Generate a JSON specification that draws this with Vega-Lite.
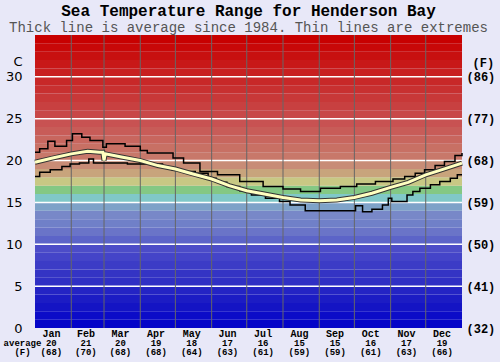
{
  "$schema": "https://vega.github.io/schema/vega-lite/v6.json",
  "width": 427,
  "height": 293,
  "autosize": {"type": "none"},
  "padding": {"left": 35, "top": 35, "right": 38, "bottom": 34},
  "background": "#e8e8f8",
  "config": {"view": {"stroke": null}},
  "title": {
    "text": "Sea Temperature Range for Henderson Bay",
    "subtitle": "Thick line is average since 1984. Thin lines are extremes",
    "anchor": "middle",
    "font": "Liberation Mono",
    "fontSize": 16,
    "fontWeight": "bold",
    "color": "#000000",
    "subtitleFont": "Liberation Mono",
    "subtitleFontSize": 14,
    "subtitleColor": "#555555",
    "subtitlePadding": 2,
    "offset": 0
  },
  "datasets": {
    "bands": [
      {"lo": 0, "hi": 1}, {"lo": 1, "hi": 2}, {"lo": 2, "hi": 3}, {"lo": 3, "hi": 4}, {"lo": 4, "hi": 5},
      {"lo": 5, "hi": 6}, {"lo": 6, "hi": 7}, {"lo": 7, "hi": 8}, {"lo": 8, "hi": 9}, {"lo": 9, "hi": 10},
      {"lo": 10, "hi": 11}, {"lo": 11, "hi": 12}, {"lo": 12, "hi": 13}, {"lo": 13, "hi": 14}, {"lo": 14, "hi": 15},
      {"lo": 15, "hi": 16}, {"lo": 16, "hi": 17}, {"lo": 17, "hi": 18}, {"lo": 18, "hi": 19}, {"lo": 19, "hi": 20},
      {"lo": 20, "hi": 21}, {"lo": 21, "hi": 22}, {"lo": 22, "hi": 23}, {"lo": 23, "hi": 24}, {"lo": 24, "hi": 25},
      {"lo": 25, "hi": 26}, {"lo": 26, "hi": 27}, {"lo": 27, "hi": 28}, {"lo": 28, "hi": 29}, {"lo": 29, "hi": 30},
      {"lo": 30, "hi": 31}, {"lo": 31, "hi": 32}, {"lo": 32, "hi": 33}, {"lo": 33, "hi": 34}, {"lo": 34, "hi": 35}
    ],
    "hlines": [{"t": 5}, {"t": 10}, {"t": 15}, {"t": 20}, {"t": 25}, {"t": 30}],
    "months": [{"d": 31}, {"d": 59}, {"d": 90}, {"d": 120}, {"d": 151}, {"d": 181}, {"d": 212}, {"d": 243}, {"d": 273}, {"d": 304}, {"d": 334}],
    "mlabels": [
      {"d": 14, "m": "Jan", "c": "20", "f": "(68)"},
      {"d": 43.5, "m": "Feb", "c": "21", "f": "(70)"},
      {"d": 73, "m": "Mar", "c": "20", "f": "(68)"},
      {"d": 103.5, "m": "Apr", "c": "19", "f": "(68)"},
      {"d": 134, "m": "May", "c": "18", "f": "(64)"},
      {"d": 164.5, "m": "Jun", "c": "17", "f": "(63)"},
      {"d": 195, "m": "Jul", "c": "16", "f": "(61)"},
      {"d": 226, "m": "Aug", "c": "15", "f": "(59)"},
      {"d": 256.5, "m": "Sep", "c": "15", "f": "(59)"},
      {"d": 287, "m": "Oct", "c": "16", "f": "(61)"},
      {"d": 317.5, "m": "Nov", "c": "17", "f": "(63)"},
      {"d": 348, "m": "Dec", "c": "19", "f": "(66)"}
    ],
    "hi": [
      {"d": 0, "t": 21.0}, {"d": 4, "t": 21.4}, {"d": 11, "t": 22.3}, {"d": 17, "t": 21.7}, {"d": 27, "t": 22.4},
      {"d": 32, "t": 23.2}, {"d": 40, "t": 22.8}, {"d": 47, "t": 22.4}, {"d": 58, "t": 21.6}, {"d": 61, "t": 22.0},
      {"d": 77, "t": 21.7}, {"d": 90, "t": 21.2}, {"d": 96, "t": 20.9}, {"d": 118, "t": 20.3}, {"d": 127, "t": 19.7},
      {"d": 141, "t": 18.7}, {"d": 156, "t": 18.3}, {"d": 175, "t": 17.5}, {"d": 195, "t": 16.9}, {"d": 212, "t": 16.6},
      {"d": 227, "t": 16.3}, {"d": 244, "t": 16.7}, {"d": 261, "t": 16.9}, {"d": 275, "t": 17.2}, {"d": 291, "t": 17.5},
      {"d": 306, "t": 17.8}, {"d": 316, "t": 18.1}, {"d": 325, "t": 18.5}, {"d": 333, "t": 18.9}, {"d": 342, "t": 19.4},
      {"d": 350, "t": 19.9}, {"d": 359, "t": 20.6}, {"d": 365, "t": 20.9}
    ],
    "lo": [
      {"d": 0, "t": 18.1}, {"d": 4, "t": 18.6}, {"d": 13, "t": 18.9}, {"d": 23, "t": 19.3}, {"d": 30, "t": 19.6},
      {"d": 38, "t": 19.7}, {"d": 46, "t": 20.2}, {"d": 50, "t": 19.7}, {"d": 79, "t": 19.6}, {"d": 109, "t": 19.1},
      {"d": 117, "t": 18.9}, {"d": 126, "t": 18.7}, {"d": 137, "t": 18.5}, {"d": 148, "t": 17.9}, {"d": 155, "t": 17.4},
      {"d": 164, "t": 16.9}, {"d": 175, "t": 16.4}, {"d": 185, "t": 15.9}, {"d": 197, "t": 15.5}, {"d": 209, "t": 15.1},
      {"d": 218, "t": 14.7}, {"d": 231, "t": 14.0}, {"d": 274, "t": 14.6}, {"d": 280, "t": 13.9}, {"d": 288, "t": 14.2},
      {"d": 297, "t": 14.7}, {"d": 302, "t": 15.5}, {"d": 305, "t": 15.1}, {"d": 318, "t": 15.9}, {"d": 323, "t": 16.3},
      {"d": 329, "t": 16.7}, {"d": 338, "t": 17.1}, {"d": 346, "t": 17.5}, {"d": 355, "t": 17.9}, {"d": 361, "t": 18.3},
      {"d": 365, "t": 18.3}
    ],
    "avg": [
      {"d": 0, "t": 19.8}, {"d": 15, "t": 20.3}, {"d": 31, "t": 20.8}, {"d": 45, "t": 21.1}, {"d": 55, "t": 21.0},
      {"d": 58, "t": 21.0}, {"d": 59, "t": 20.0}, {"d": 60, "t": 20.8}, {"d": 75, "t": 20.4}, {"d": 90, "t": 20.0},
      {"d": 105, "t": 19.4}, {"d": 120, "t": 19.0}, {"d": 135, "t": 18.4}, {"d": 151, "t": 17.8}, {"d": 166, "t": 17.0},
      {"d": 181, "t": 16.4}, {"d": 196, "t": 16.0}, {"d": 212, "t": 15.6}, {"d": 227, "t": 15.3}, {"d": 243, "t": 15.2},
      {"d": 258, "t": 15.3}, {"d": 273, "t": 15.6}, {"d": 288, "t": 16.1}, {"d": 304, "t": 16.8}, {"d": 319, "t": 17.4},
      {"d": 334, "t": 18.3}, {"d": 350, "t": 19.0}, {"d": 365, "t": 19.7}
    ]
  },
  "resolve": {"axis": {"y": "independent"}},
  "layer": [
    {
      "data": {"name": "bands"},
      "mark": {"type": "rect"},
      "encoding": {
        "y": {
          "field": "lo", "type": "quantitative",
          "scale": {"domain": [0, 35], "nice": false, "zero": false},
          "axis": {
            "orient": "left", "values": [0, 5, 10, 15, 20, 25, 30], "grid": false, "ticks": false, "domain": false,
            "labelFont": "DejaVu Sans", "labelFontSize": 13, "labelColor": "#000000", "labelPadding": 13,
            "title": "C", "titleAngle": 0, "titleFont": "DejaVu Sans", "titleFontSize": 13, "titleFontWeight": "normal",
            "titleColor": "#000000", "titleAlign": "right", "titleBaseline": "middle", "titleX": -13, "titleY": 26
          }
        },
        "y2": {"field": "hi"},
        "color": {
          "field": "lo", "type": "ordinal", "legend": null,
          "scale": {"range": [
            "#0404c8", "#0c0cc8", "#1414c4", "#1c1cc4", "#2424c4",
            "#3030c4", "#3434c4", "#3c3cc6", "#4444c8", "#4c4cc8",
            "#5c64c8", "#6a74c8", "#7080c8", "#7888c8", "#7ea2c8",
            "#80c8c8", "#84c884", "#c8c884", "#c8a47c", "#c88c76",
            "#c8786a", "#c87064", "#c8665e", "#c85c58", "#c85252",
            "#c84848", "#c84040", "#c83838", "#c83030", "#c82828",
            "#c82020", "#c81818", "#c81010", "#c80808", "#c80000"
          ]}
        }
      }
    },
    {
      "data": {"name": "hlines"},
      "mark": {"type": "rule", "color": "#ffffff", "strokeWidth": 1.5},
      "encoding": {
        "y": {
          "field": "t", "type": "quantitative",
          "axis": {
            "orient": "right", "values": [0, 5, 10, 15, 20, 25, 30], "grid": false, "ticks": false, "domain": false,
            "labelExpr": "'(' + round(datum.value * 9 / 5 + 32) + ')'",
            "labelFont": "Liberation Mono", "labelFontSize": 12, "labelFontWeight": "bold", "labelColor": "#000000", "labelPadding": 4,
            "title": "(F)", "titleAngle": 0, "titleFont": "Liberation Mono", "titleFontSize": 12, "titleFontWeight": "bold",
            "titleColor": "#000000", "titleAlign": "left", "titleBaseline": "middle", "titleX": 10, "titleY": 27
          }
        }
      }
    },
    {
      "data": {"name": "months"},
      "mark": {"type": "rule", "color": "#666666", "strokeWidth": 1},
      "encoding": {
        "x": {
          "field": "d", "type": "quantitative",
          "scale": {"domain": [0, 365], "nice": false, "zero": false},
          "axis": {
            "labels": false, "grid": false, "ticks": false, "domain": false,
            "title": ["average", "(F)"], "titleFont": "Liberation Mono", "titleFontSize": 9, "titleFontWeight": "bold",
            "titleColor": "#000000", "titleAlign": "center", "titleBaseline": "top", "titleLineHeight": 9.5,
            "titleX": -13, "titleY": 10, "titleAnchor": "start"
          }
        }
      }
    },
    {
      "data": {"name": "hi"},
      "mark": {"type": "line", "interpolate": "step-after", "color": "#000000", "strokeWidth": 1.5},
      "encoding": {
        "x": {"field": "d", "type": "quantitative"},
        "y": {"field": "t", "type": "quantitative", "axis": null}
      }
    },
    {
      "data": {"name": "lo"},
      "mark": {"type": "line", "interpolate": "step-after", "color": "#000000", "strokeWidth": 1.5},
      "encoding": {
        "x": {"field": "d", "type": "quantitative"},
        "y": {"field": "t", "type": "quantitative", "axis": null}
      }
    },
    {
      "data": {"name": "avg"},
      "mark": {"type": "line", "color": "#333333", "strokeWidth": 5},
      "encoding": {
        "x": {"field": "d", "type": "quantitative"},
        "y": {"field": "t", "type": "quantitative", "axis": null}
      }
    },
    {
      "data": {"name": "avg"},
      "mark": {"type": "line", "color": "#ffffc0", "strokeWidth": 3},
      "encoding": {
        "x": {"field": "d", "type": "quantitative"},
        "y": {"field": "t", "type": "quantitative", "axis": null}
      }
    },
    {
      "data": {"name": "mlabels"},
      "mark": {"type": "text", "font": "Liberation Mono", "fontSize": 10, "fontWeight": "bold", "color": "#000000", "baseline": "middle", "dy": 6},
      "encoding": {
        "x": {"field": "d", "type": "quantitative"},
        "y": {"datum": 0, "type": "quantitative", "axis": null},
        "text": {"field": "m"}
      }
    },
    {
      "data": {"name": "mlabels"},
      "mark": {"type": "text", "font": "Liberation Mono", "fontSize": 9, "fontWeight": "bold", "color": "#000000", "baseline": "middle", "dy": 15},
      "encoding": {
        "x": {"field": "d", "type": "quantitative"},
        "y": {"datum": 0, "type": "quantitative", "axis": null},
        "text": {"field": "c"}
      }
    },
    {
      "data": {"name": "mlabels"},
      "mark": {"type": "text", "font": "Liberation Mono", "fontSize": 9, "fontWeight": "bold", "color": "#000000", "baseline": "middle", "dy": 24},
      "encoding": {
        "x": {"field": "d", "type": "quantitative"},
        "y": {"datum": 0, "type": "quantitative", "axis": null},
        "text": {"field": "f"}
      }
    }
  ]
}
